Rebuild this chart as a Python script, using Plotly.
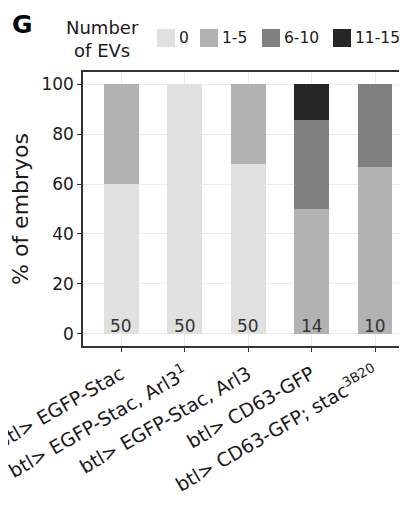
import plotly.graph_objects as go

categories = [
    "btl> EGFP-Stac",
    "btl> EGFP-Stac, Arl3<sup>1</sup>",
    "btl> EGFP-Stac, Arl3",
    "btl> CD63-GFP",
    "btl> CD63-GFP; stac<sup>3B20</sup>",
]
ev_bins = ["0", "1-5", "6-10", "11-15"]
pct_0 = [60, 100, 68, 0, 0]
pct_1_5 = [40, 0, 32, 50, 66.7]
pct_6_10 = [0, 0, 0, 35.7, 33.3]
pct_11_15 = [0, 0, 0, 14.3, 0]
n_embryos = [50, 50, 50, 14, 10]
y_ticks = [0, 20, 40, 60, 80, 100]

FONT = "DejaVu Sans"
colors = ["#e0e0e0", "#b2b2b2", "#808080", "#262626"]
series = [pct_0, pct_1_5, pct_6_10, pct_11_15]

# page body has an 8px default margin: layout numbers are shifted by -8
L, T, B = 75, 64, 168
W, H = 407, 506
PW = W - L
PH = H - T - B
PB = H - B  # plot bottom in px


def px_x(px):
    return (px - L) / PW


def px_y(py):
    return (PB - py) / PH


fig = go.Figure()
for name, vals, col in zip(ev_bins, series, colors):
    fig.add_trace(go.Bar(
        x=categories, y=vals, name=name, marker_color=col,
        marker_line_width=0, width=0.55, showlegend=False,
    ))

# sample sizes at the foot of each bar
for cat, n in zip(categories, n_embryos):
    fig.add_annotation(
        text=str(n), x=cat, y=0, xref="x", yref="y",
        xanchor="center", yanchor="bottom", yshift=-4, showarrow=False,
        font=dict(family=FONT, size=17, color="#333333"),
    )

# legend drawn as keys + labels
key_left = [149, 192, 254, 325]
key_size = 18
key_top = 21
for name, col, kx in zip(ev_bins, colors, key_left):
    fig.add_shape(
        type="rect", xref="paper", yref="paper",
        x0=px_x(kx), x1=px_x(kx + key_size),
        y0=px_y(key_top + key_size), y1=px_y(key_top),
        fillcolor=col, line_width=0,
    )
    fig.add_annotation(
        text=name, xref="paper", yref="paper",
        x=px_x(kx + key_size + 2), y=px_y(key_top + key_size / 2),
        xanchor="left", yanchor="middle", showarrow=False,
        font=dict(family=FONT, size=15.5, color="#1a1a1a"),
    )
fig.add_annotation(
    text="Number<br>of EVs", xref="paper", yref="paper",
    x=px_x(94), y=px_y(31), xanchor="center", yanchor="middle",
    align="center", showarrow=False,
    font=dict(family=FONT, size=18, color="#1a1a1a"),
)

fig.update_layout(
    barmode="stack",
    width=W, height=H,
    margin=dict(l=L, r=0, t=T, b=B, autoexpand=False),
    plot_bgcolor="white", paper_bgcolor="white",
    font=dict(family=FONT, color="#1a1a1a"),
    showlegend=False,
)
fig.update_xaxes(
    range=[-0.6, 4.63], tickangle=-30,
    tickfont=dict(size=19, color="#1a1a1a"),
    showline=True, linecolor="#333333", linewidth=1.5, mirror=True,
    ticks="outside", ticklen=4, tickcolor="#333333",
    ticklabelstandoff=4,
    showgrid=True, gridcolor="#ebebeb",
)
fig.update_yaxes(
    range=[-5, 105], tickvals=y_ticks,
    tickfont=dict(size=17, color="#1a1a1a"),
    title=dict(text="% of embryos", font=dict(size=22), standoff=10),
    showline=True, linecolor="#333333", linewidth=1.5,
    ticks="outside", ticklen=4, tickcolor="#333333",
    showgrid=True, gridcolor="#ebebeb", zeroline=False,
)
fig.add_annotation(
    text="<b>G</b>", xref="paper", yref="paper",
    x=px_x(14.5), y=px_y(16),
    xanchor="center", yanchor="middle", showarrow=False,
    font=dict(family=FONT, size=25, color="black"),
)
fig.write_html("out.html")
